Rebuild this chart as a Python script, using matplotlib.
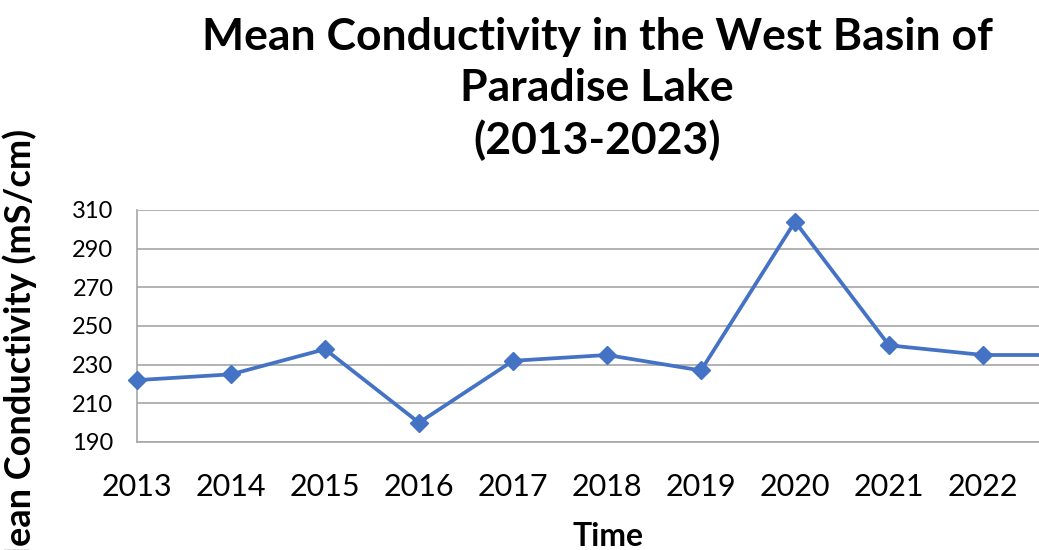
import matplotlib.pyplot as plt
import matplotlib as mpl

# data
years = [2013, 2014, 2015, 2016, 2017, 2018, 2019, 2020, 2021, 2022, 2023]
conductivity = [222, 225, 238, 200, 232, 235, 227, 304, 240, 235, 235]
yticks = [190, 210, 230, 250, 270, 290, 310]

plt.rcParams['font.family'] = ['Lato', 'DejaVu Sans']

fig = plt.figure(figsize=(10.39, 5.5), dpi=100)
# plot area runs past the right edge, as in the cropped original
ax = fig.add_axes([137 / 1039, 108 / 550, 940 / 1039, 232 / 550])

ax.plot(years, conductivity, color='#4472C4', linewidth=2.7,
        marker='D', markersize=9, zorder=3, clip_on=False)

ax.set_xlim(2013, 2023)
ax.set_ylim(190, 310)
ax.set_yticks(yticks)
ax.set_xticks(years[:-1])
ax.grid(axis='y', color='#A6A6A6', linewidth=1.2)
for s in ['top', 'right']:
    ax.spines[s].set_visible(False)
ax.spines['left'].set_color('#A6A6A6')
ax.spines['bottom'].set_color('#A6A6A6')
ax.spines['left'].set_linewidth(1.2)
ax.spines['bottom'].set_linewidth(1.2)
ax.tick_params(axis='x', length=0, pad=22, labelsize=22)
ax.tick_params(axis='y', length=0, pad=17, labelsize=17)

fig.text(597 / 1039, 1 - 89 / 550,
         'Mean Conductivity in the West Basin of\nParadise Lake\n(2013-2023)',
         ha='center', va='center', fontsize=32, fontweight='bold',
         linespacing=1.33)
fig.text(608 / 1039, 1 - 537 / 550, 'Time', ha='center', va='center',
         fontsize=23, fontweight='bold')
fig.text(20 / 1039, 1 - 354 / 550, 'Mean Conductivity (mS/cm)', rotation=90,
         ha='center', va='center', fontsize=26, fontweight='bold')

plt.savefig('out.png', dpi=100)
